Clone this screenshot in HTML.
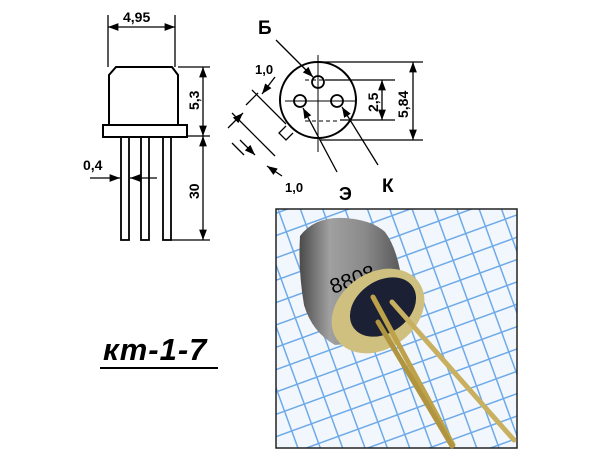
<!DOCTYPE html>
<html><head><meta charset="utf-8"><style>
html,body{margin:0;padding:0;background:#fff}
svg{display:block}
text{font-family:"Liberation Sans","DejaVu Sans",sans-serif;fill:#000}
</style></head><body>
<svg width="600" height="451" viewBox="0 0 600 451" xmlns="http://www.w3.org/2000/svg">
<defs>
<marker id="a" markerWidth="8" markerHeight="6" refX="8" refY="3" orient="auto"><path d="M0,0 L8,3 L0,6 z" fill="#000"/></marker>
<marker id="b" markerWidth="8" markerHeight="6" refX="0" refY="3" orient="auto"><path d="M8,0 L0,3 L8,6 z" fill="#000"/></marker>
<pattern id="g" width="21" height="21" patternUnits="userSpaceOnUse" patternTransform="rotate(-20)">
<rect width="21" height="21" fill="#f2f7fd"/>
<path d="M0,0H21M0,0V21" stroke="#6eaae8" stroke-width="3"/>
</pattern>
<linearGradient id="cap" x1="0" x2="1"><stop offset="0" stop-color="#4a4a4a"/><stop offset="0.3" stop-color="#a0a0a0"/><stop offset="0.65" stop-color="#8a8a8a"/><stop offset="1" stop-color="#5a5a5a"/></linearGradient>
</defs>
<g stroke="#000" fill="none" stroke-width="1.3">
<path d="M109,125 V75 L116,67 H172 L178,75 V125" stroke-width="2"/>
<rect x="103" y="125" width="84" height="12" stroke-width="2"/>
<rect x="121" y="137" width="8" height="103" stroke-width="1.8"/>
<rect x="141" y="137" width="8" height="103" stroke-width="1.8"/>
<rect x="163" y="137" width="8" height="103" stroke-width="1.8"/>
<path d="M108,15 V67 M175,15 V67"/>
<line x1="108" y1="27" x2="175" y2="27" marker-start="url(#b)" marker-end="url(#a)"/>
<path d="M178,67 H210 M187,136 H210 M171,240 H210"/>
<line x1="203" y1="67" x2="203" y2="136" marker-start="url(#b)" marker-end="url(#a)"/>
<line x1="203" y1="136" x2="203" y2="240" marker-start="url(#b)" marker-end="url(#a)"/>
<line x1="90" y1="178" x2="120" y2="178" marker-end="url(#a)"/>
<line x1="157" y1="178" x2="130" y2="178" marker-end="url(#a)"/>
<circle cx="318" cy="100" r="38" stroke-width="2"/>
<circle cx="318" cy="82" r="6" stroke-width="1.8"/>
<circle cx="300" cy="101" r="6" stroke-width="1.8"/>
<circle cx="337" cy="101" r="6" stroke-width="1.8"/>
<path d="M318,55 V152 M285,101 H355" stroke-width="1"/>
<path d="M305,80 H340 M305,121 H340" stroke-width="1" stroke-dasharray="4,3"/>
<path d="M320,62 H423 M320,140 H423 M325,80 H395 M340,120 H395"/>
<line x1="413" y1="62" x2="413" y2="140" marker-start="url(#b)" marker-end="url(#a)"/>
<line x1="382" y1="80" x2="382" y2="120" marker-start="url(#b)" marker-end="url(#a)"/>
<path d="M286,126 L279,133 L286,140 L293,133"/>
<path d="M252,90 L286,124 M232,113 L275,156 M246,105 L258,93 M244,155 L232,143"/>
<line x1="228" y1="128" x2="243" y2="113" marker-end="url(#a)"/>
<line x1="240" y1="140" x2="255" y2="155" marker-end="url(#a)"/>
<line x1="275" y1="77" x2="262" y2="94" marker-end="url(#a)"/>
<line x1="282" y1="176" x2="267" y2="166" marker-end="url(#a)"/>
<line x1="276" y1="40" x2="313" y2="77" marker-end="url(#a)"/>
<line x1="337" y1="172" x2="303" y2="108" marker-end="url(#a)"/>
<line x1="378" y1="165" x2="342" y2="107" marker-end="url(#a)"/>
</g>
<g font-weight="bold">
<text x="123" y="22" font-size="14">4,95</text>
<text x="0" y="0" font-size="14" transform="translate(199,110) rotate(-90)">5,3</text>
<text x="0" y="0" font-size="14" transform="translate(199,199) rotate(-90)">30</text>
<text x="83" y="170" font-size="14">0,4</text>
<text x="258" y="34" font-size="19">Б</text>
<text x="255" y="74" font-size="13">1,0</text>
<text x="285" y="192" font-size="13">1,0</text>
<text x="339" y="200" font-size="18">Э</text>
<text x="382" y="192" font-size="19">К</text>
<text x="0" y="0" font-size="14" transform="translate(378,112) rotate(-90)">2,5</text>
<text x="0" y="0" font-size="14" transform="translate(408,118) rotate(-90)">5,84</text>
</g>
<text x="103" y="360" font-size="31" font-style="italic" font-weight="bold" letter-spacing="1">кт-1-7</text>
<line x1="100" y1="368" x2="218" y2="368" stroke="#000" stroke-width="2"/>
<rect x="276" y="209" width="241" height="239" fill="url(#g)" stroke="#222" stroke-width="1.5"/>
<path d="M300,236 Q315,216 345,218 Q372,220 385,232 Q395,245 400,270 L400,340 L335,345 Q312,332 304,305 Q298,270 300,236 z" fill="url(#cap)"/>
<text x="0" y="0" font-size="21" fill="#111" transform="translate(333,294) rotate(-20)">8808</text>
<ellipse cx="378" cy="311" rx="50" ry="38" transform="rotate(-35 378 311)" fill="#cfc080"/>
<ellipse cx="383" cy="307" rx="36" ry="26" transform="rotate(-35 383 307)" fill="#1c2034"/>
<g stroke-width="5" stroke-linecap="round">
<path d="M373,297 L453,445" stroke="#bda24a"/>
<path d="M392,302 L514,440" stroke="#c9b060"/>
<path d="M378,322 L452,446" stroke="#b09440"/>
</g>
</svg>
</body></html>
